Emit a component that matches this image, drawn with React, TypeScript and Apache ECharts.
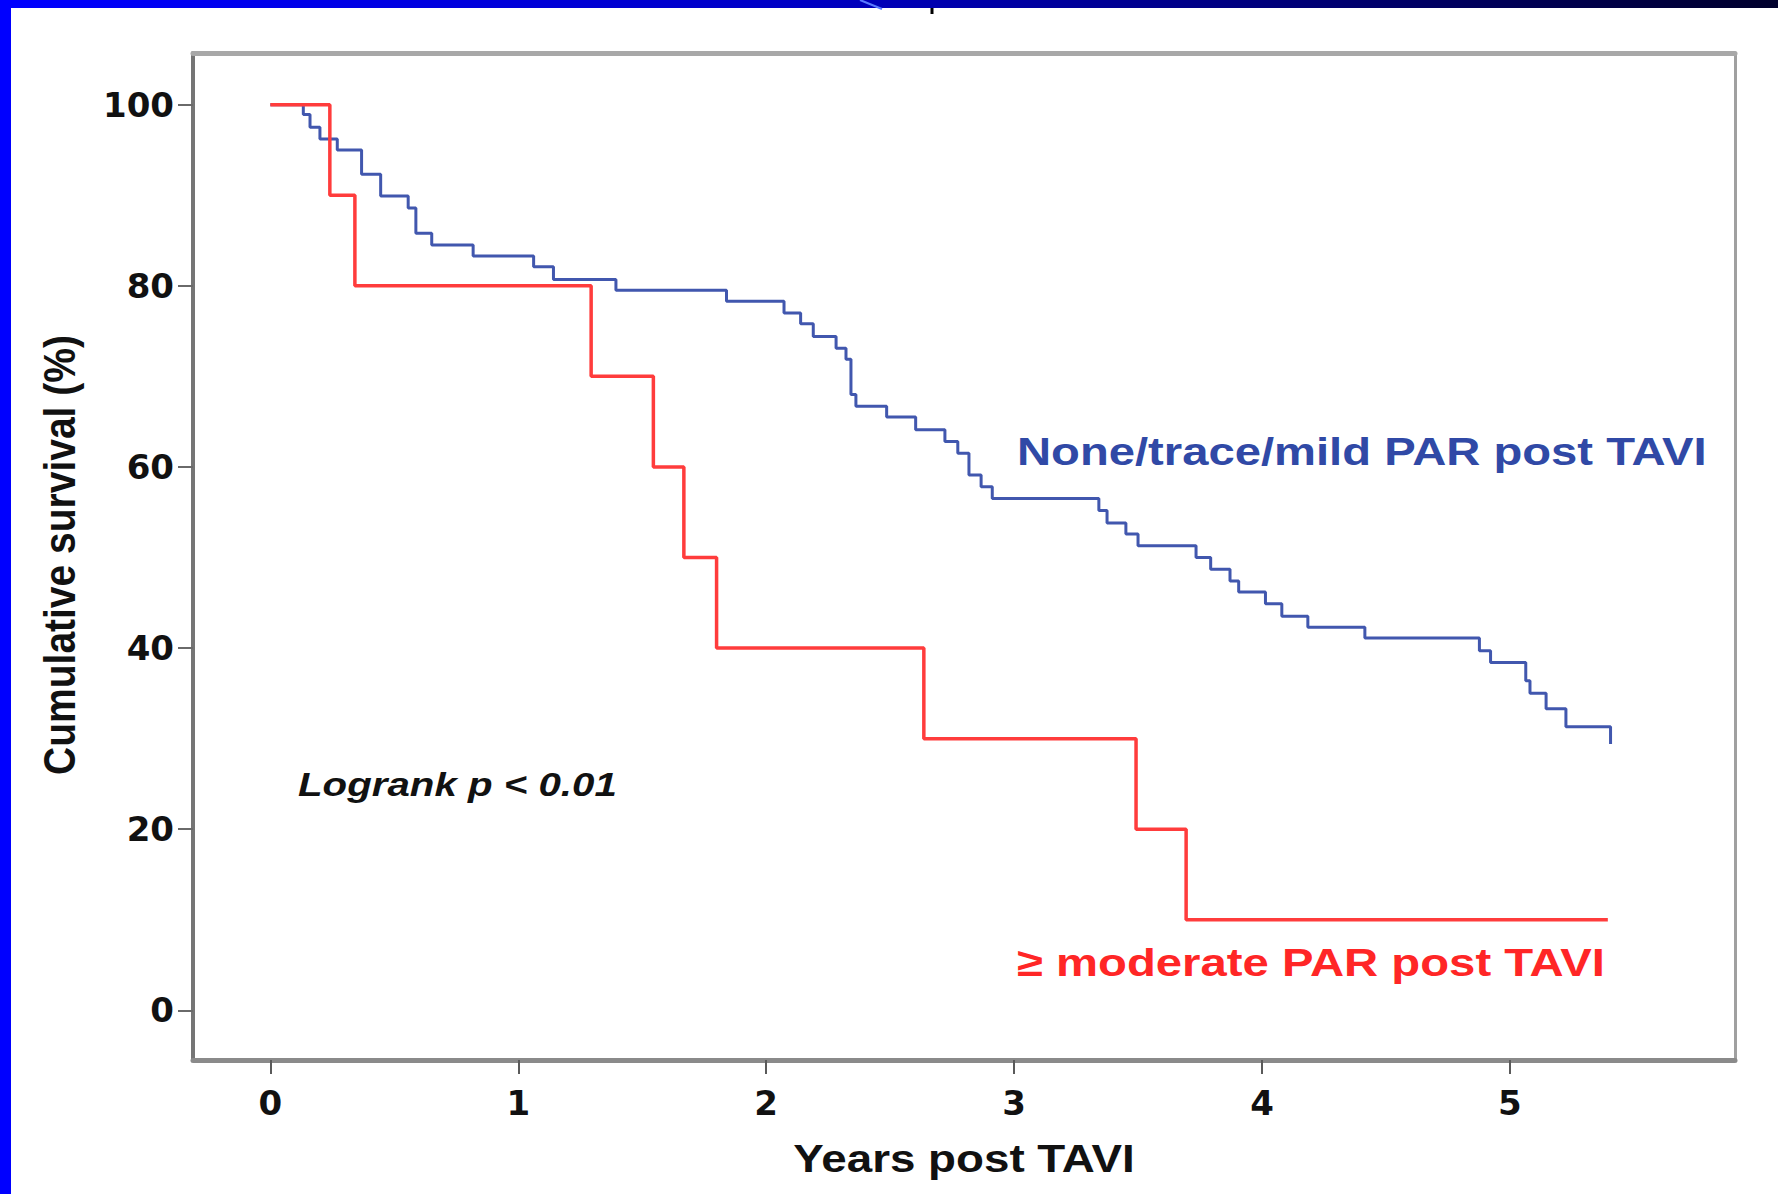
import React, { useEffect, useRef } from "react";
import * as echarts from "echarts";

// Kaplan-Meier steps (years, cumulative survival %)
const blueTimes = [
  0, 0.133, 0.16, 0.2, 0.27, 0.368, 0.445, 0.556, 0.587, 0.651, 0.818, 1.062,
  1.142, 1.394, 1.84, 2.072, 2.139, 2.19, 2.282, 2.322, 2.342, 2.362, 2.486,
  2.603, 2.721, 2.773, 2.818, 2.867, 2.912, 3.342, 3.375, 3.451, 3.5, 3.734,
  3.793, 3.871, 3.906, 4.014, 4.08, 4.185, 4.415, 4.877, 4.922, 5.064, 5.081,
  5.146, 5.226, 5.406,
];
const blueSurvival = [
  100, 98.9, 97.5, 96.2, 95.0, 92.3, 89.9, 88.6, 85.8, 84.5, 83.3, 82.1, 80.7,
  79.5, 78.3, 77.0, 75.8, 74.4, 73.1, 71.9, 68.0, 66.7, 65.5, 64.1, 62.8, 61.5,
  59.1, 57.8, 56.5, 55.2, 53.8, 52.6, 51.3, 50.0, 48.7, 47.4, 46.2, 44.9, 43.5,
  42.3, 41.1, 39.7, 38.4, 36.4, 35.0, 33.3, 31.3, 29.4,
];
const redTimes = [0, 0.24, 0.341, 1.294, 1.545, 1.668, 1.8, 2.636, 3.492, 3.694, 5.395];
const redSurvival = [100, 90, 80, 70, 60, 50, 40, 30, 20, 10, 10];

const xTicks = [0, 1, 2, 3, 4, 5];
const yTicks = [0, 20, 40, 60, 80, 100];

const blueLabel = "None/trace/mild PAR post TAVI";
const redLabel = "\u2265 moderate PAR post TAVI";
const logrankLabel = "Logrank p < 0.01";
const xTitle = "Years post TAVI";
const yTitle = "Cumulative survival (%)";

const SANS = '"Liberation Sans", Arial, Helvetica, sans-serif';
const TICKFONT = '"DejaVu Sans", "Liberation Sans", sans-serif';

export default function App() {
  const ref = useRef<HTMLDivElement>(null);

  useEffect(() => {
    if (!ref.current) return;
    const chart = echarts.init(ref.current, undefined, { renderer: "svg" });

    const X_MIN = -0.312;
    const X_MAX = 5.908;
    const Y_MIN = -5.48;
    const Y_MAX = 105.7;

    const tickLabel = {
      fontFamily: TICKFONT,
      fontWeight: "bold" as const,
      fontSize: 34,
      color: "#111111",
    };

    const option: any = {
      animation: false,
      backgroundColor: "#ffffff",
      grid: { left: 193, right: 43, top: 53, bottom: 134, containLabel: false },
      xAxis: [
        {
          type: "value",
          min: X_MIN,
          max: X_MAX,
          position: "bottom",
          axisLine: { show: true, onZero: false, lineStyle: { color: "#8a8a8a", width: 5 } },
          axisTick: {
            show: true,
            customValues: xTicks,
            length: 14,
            lineStyle: { color: "#5a5a5a", width: 2 },
          },
          axisLabel: { customValues: xTicks, margin: 26, ...tickLabel },
          splitLine: { show: false },
        },
        {
          type: "value",
          min: X_MIN,
          max: X_MAX,
          position: "top",
          axisLine: { show: true, onZero: false, lineStyle: { color: "#a8a8a8", width: 5 } },
          axisTick: { show: false },
          axisLabel: { show: false },
          splitLine: { show: false },
        },
      ],
      yAxis: [
        {
          type: "value",
          min: Y_MIN,
          max: Y_MAX,
          position: "left",
          axisLine: { show: true, onZero: false, lineStyle: { color: "#757575", width: 4 } },
          axisTick: {
            show: true,
            customValues: yTicks,
            length: 15,
            lineStyle: { color: "#6a6a6a", width: 2 },
          },
          axisLabel: { customValues: yTicks, margin: 19, ...tickLabel },
          splitLine: { show: false },
        },
        {
          type: "value",
          min: Y_MIN,
          max: Y_MAX,
          position: "right",
          axisLine: { show: true, onZero: false, lineStyle: { color: "#a0a0a0", width: 3 } },
          axisTick: { show: false },
          axisLabel: { show: false },
          splitLine: { show: false },
        },
      ],
      series: [
        {
          name: blueLabel,
          type: "line",
          step: "end",
          xAxisIndex: 0,
          yAxisIndex: 0,
          symbol: "none",
          showSymbol: false,
          data: blueTimes.map((t, i) => [t, blueSurvival[i]]),
          lineStyle: { color: "#4157ae", width: 3 },
          z: 2,
        },
        {
          name: redLabel,
          type: "line",
          step: "end",
          xAxisIndex: 0,
          yAxisIndex: 0,
          symbol: "none",
          showSymbol: false,
          data: redTimes.map((t, i) => [t, redSurvival[i]]),
          lineStyle: { color: "#ff3c3c", width: 3.5 },
          z: 3,
        },
      ],
      graphic: [
        {
          type: "rect",
          z: 100,
          shape: { x: 0, y: 0, width: 1778, height: 8 },
          style: {
            fill: new echarts.graphic.LinearGradient(0, 0, 1, 0, [
              { offset: 0, color: "#0000ff" },
              { offset: 0.45, color: "#0000c4" },
              { offset: 1, color: "#00002c" },
            ]),
          },
        },
        {
          type: "rect",
          z: 100,
          shape: { x: 0, y: 0, width: 11, height: 1194 },
          style: { fill: "#0000ff" },
        },
        {
          type: "line",
          z: 101,
          shape: { x1: 860, y1: 0, x2: 882, y2: 9 },
          style: { stroke: "#5b7bff", lineWidth: 2 },
        },
        {
          type: "line",
          z: 101,
          shape: { x1: 932, y1: 8, x2: 932, y2: 14 },
          style: { stroke: "#000000", lineWidth: 3 },
        },
        {
          type: "text",
          x: 1017,
          y: 451,
          scaleX: 1.195,
          style: {
            text: blueLabel,
            fill: "#3049a6",
            fontFamily: SANS,
            fontWeight: "bold",
            fontSize: 39.5,
            align: "left",
            verticalAlign: "middle",
            textAlign: "left",
            textVerticalAlign: "middle",
          },
        },
        {
          type: "text",
          x: 1017,
          y: 962,
          scaleX: 1.197,
          style: {
            text: redLabel,
            fill: "#ff2626",
            fontFamily: SANS,
            fontWeight: "bold",
            fontSize: 39.5,
            align: "left",
            verticalAlign: "middle",
            textAlign: "left",
            textVerticalAlign: "middle",
          },
        },
        {
          type: "text",
          x: 298,
          y: 785,
          scaleX: 1.235,
          style: {
            text: logrankLabel,
            fill: "#111111",
            fontFamily: SANS,
            fontWeight: "bold",
            fontStyle: "italic",
            fontSize: 32.6,
            align: "left",
            verticalAlign: "middle",
            textAlign: "left",
            textVerticalAlign: "middle",
          },
        },
        {
          type: "text",
          x: 964,
          y: 1158,
          scaleX: 1.158,
          style: {
            text: xTitle,
            fill: "#111111",
            fontFamily: SANS,
            fontWeight: "bold",
            fontSize: 39.5,
            align: "center",
            verticalAlign: "middle",
            textAlign: "center",
            textVerticalAlign: "middle",
          },
        },
        {
          type: "text",
          x: 60,
          y: 555,
          rotation: Math.PI / 2,
          scaleY: 1.12,
          style: {
            text: yTitle,
            fill: "#111111",
            fontFamily: SANS,
            fontWeight: "bold",
            fontSize: 39,
            align: "center",
            verticalAlign: "middle",
            textAlign: "center",
            textVerticalAlign: "middle",
          },
        },
      ],
    };

    chart.setOption(option);
    return () => {
      chart.dispose();
    };
  }, []);

  return (
    <div
      ref={ref}
      style={{ position: "fixed", left: 0, top: 0, width: 1778, height: 1194, background: "#ffffff" }}
    />
  );
}
